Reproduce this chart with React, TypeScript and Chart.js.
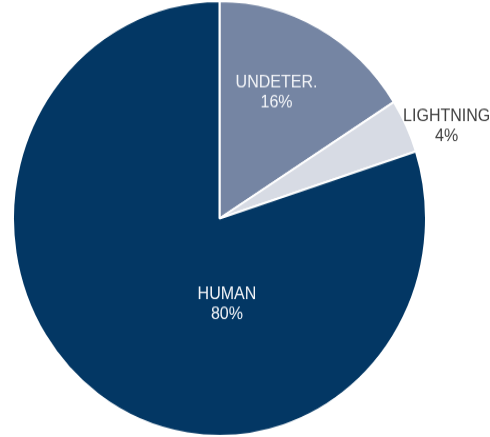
import React, { useEffect, useRef } from "react";
import { Chart, registerables } from "chart.js";

Chart.register(...registerables);

// Slice order runs clockwise from 12 o'clock.
const causes = ["UNDETER.", "LIGHTNING", "HUMAN"];
const shares = [16, 4, 80];
const sliceColors = ["#7585A3", "#D7DBE4", "#033764"];
const labelColors = ["#F2F4F8", "#404040", "#F2F4F8"];

// Label anchors relative to the pie centre, in units of the outer radius.
const labelAnchors: [number, number][] = [
  [0.276, -0.578],
  [1.1, -0.423],
  [0.036, 0.395],
];

const CANVAS_W = 490;
const CANVAS_H = 415;
const STRETCH_Y = 437 / CANVAS_H;

const sliceLabels = {
  id: "sliceLabels",
  afterDatasetsDraw(chart: Chart) {
    const meta = chart.getDatasetMeta(0);
    const ctx = chart.ctx;
    ctx.save();
    ctx.font = "16px 'Liberation Sans', Arial, sans-serif";
    ctx.textAlign = "center";
    ctx.textBaseline = "middle";
    meta.data.forEach((arc: any, i: number) => {
      const { x, y, outerRadius } = arc.getProps(["x", "y", "outerRadius"], true);
      const cx = x + labelAnchors[i][0] * outerRadius;
      const cy = y + labelAnchors[i][1] * outerRadius;
      ctx.fillStyle = labelColors[i];
      ctx.fillText(causes[i], cx, cy - 9.5);
      ctx.fillText(`${shares[i]}%`, cx, cy + 9.5);
    });
    ctx.restore();
  },
};

export default function App() {
  const canvasRef = useRef<HTMLCanvasElement>(null);

  useEffect(() => {
    if (!canvasRef.current) return;
    const chart = new Chart(canvasRef.current, {
      type: "pie",
      data: {
        labels: causes,
        datasets: [
          {
            data: shares,
            backgroundColor: sliceColors,
            borderColor: "#FFFFFF",
            borderWidth: 2,
            hoverOffset: 0,
          },
        ],
      },
      options: {
        responsive: false,
        animation: false,
        layout: { padding: { left: 12, right: 63, top: 0, bottom: 0 } },
        plugins: {
          legend: { display: false },
          tooltip: { enabled: false },
        },
      },
      plugins: [sliceLabels],
    });
    return () => chart.destroy();
  }, []);

  return (
    <div
      style={{
        position: "absolute",
        left: 0,
        top: 0,
        width: CANVAS_W,
        height: 437,
        overflow: "hidden",
        background: "#FFFFFF",
      }}
    >
      <div style={{ transform: `scaleY(${STRETCH_Y})`, transformOrigin: "0 0" }}>
        <canvas ref={canvasRef} width={CANVAS_W} height={CANVAS_H} />
      </div>
    </div>
  );
}
